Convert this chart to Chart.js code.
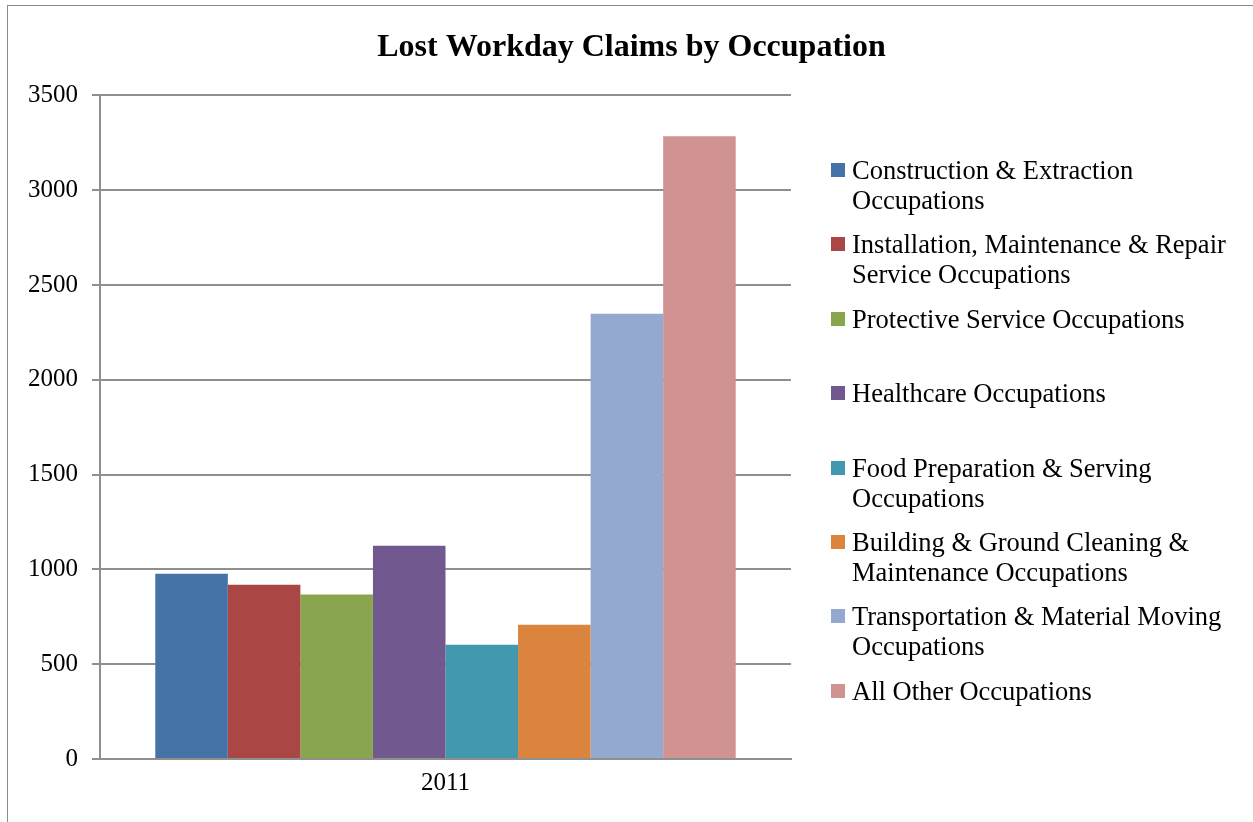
<!DOCTYPE html>
<html>
<head>
<meta charset="utf-8">
<title>Lost Workday Claims by Occupation</title>
<script src="https://cdn.jsdelivr.net/npm/chart.js@4/dist/chart.umd.min.js"></script>
<style>
    html, body { margin: 0; padding: 0; background: #fff; }
    #wrap { position: relative; width: 1253px; height: 822px; overflow: hidden; }
    #frame {
        position: absolute; left: 7px; top: 5px; width: 1300px; height: 900px;
        border-left: 1.5px solid #8a8a8a; border-top: 1.5px solid #8a8a8a;
        pointer-events: none;
    }
    #legend {
        position: absolute; left: 831px; top: 155px; width: 420px;
        display: grid; grid-auto-rows: 74.4px;
        font-family: "Liberation Serif", "Times New Roman", serif;
        font-size: 26.5px; line-height: 30px; color: #000;
    }
    .item { display: flex; align-items: flex-start; }
    .swatch { flex: 0 0 14px; height: 14px; margin-top: 8px; margin-right: 7px; }
    .text { max-width: 395px; }
</style>
</head>
<body>
<div id="wrap">
    <canvas id="claims" width="1253" height="822"></canvas>
    <div id="frame"></div>
    <div id="legend"></div>
</div>
<script>
// Lost workday claims, 2011, one bar per occupation group
const years = ['2011'];
const occupations = [
    'Construction & Extraction Occupations',
    'Installation, Maintenance & Repair Service Occupations',
    'Protective Service Occupations',
    'Healthcare Occupations',
    'Food Preparation & Serving Occupations',
    'Building & Ground Cleaning & Maintenance Occupations',
    'Transportation & Material Moving Occupations',
    'All Other Occupations'
];
const claims = [977, 919, 867, 1125, 603, 708, 2348, 3285];
const colors = ['#4572A7', '#AA4643', '#89A54E', '#71588F', '#4198AF', '#DB843D', '#93A9CF', '#D19392'];
const yTicks = [0, 500, 1000, 1500, 2000, 2500, 3000, 3500];

const serif = '"Liberation Serif", "Times New Roman", serif';

// the title is centred over the whole canvas, not just the plot + legend gap
const wideTitle = {
    id: 'wideTitle',
    afterLayout(chart) {
        if (chart.titleBlock) {
            chart.titleBlock.left = 0;
            chart.titleBlock.right = chart.width + 10;
        }
    }
};

const ctx = document.getElementById('claims');
const chart = new Chart(ctx, {
    type: 'bar',
    data: {
        labels: years,
        datasets: occupations.map((name, i) => ({
            label: name,
            data: [claims[i]],
            backgroundColor: colors[i],
            borderWidth: 0
        }))
    },
    options: {
        responsive: false,
        animation: false,
        layout: { padding: { left: 0, right: 462, top: 0, bottom: 0 } },
        datasets: { bar: { categoryPercentage: 0.84, barPercentage: 1 } },
        plugins: {
            legend: { display: false },
            tooltip: { enabled: false },
            title: {
                display: true,
                text: 'Lost Workday Claims by Occupation',
                color: '#000',
                font: { family: serif, size: 32, weight: 'bold' },
                padding: { top: 29, bottom: 28 }
            }
        },
        scales: {
            x: {
                grid: { display: false },
                border: { color: '#8f8f8f', width: 2 },
                ticks: { color: '#000', font: { family: serif, size: 25 }, padding: 1 },
                afterFit(scale) { scale.height = 63; }
            },
            y: {
                min: 0,
                max: yTicks[yTicks.length - 1],
                afterBuildTicks(scale) { scale.ticks = yTicks.map(v => ({ value: v })); },
                grid: { color: '#8f8f8f', lineWidth: 2, tickLength: 8 },
                border: { color: '#8f8f8f', width: 2 },
                ticks: {
                    color: '#000',
                    font: { family: serif, size: 25 },
                    padding: 14,
                    callback: v => String(v)
                },
                afterFit(scale) { scale.width = 100; }
            }
        }
    },
    plugins: [wideTitle]
});

// Legend with wrapped labels, built from the chart's datasets
const legendEl = document.getElementById('legend');
chart.data.datasets.forEach(ds => {
    const item = document.createElement('div');
    item.className = 'item';
    const sw = document.createElement('span');
    sw.className = 'swatch';
    sw.style.background = ds.backgroundColor;
    const tx = document.createElement('span');
    tx.className = 'text';
    tx.textContent = ds.label;
    item.appendChild(sw);
    item.appendChild(tx);
    legendEl.appendChild(item);
});
</script>
</body>
</html>
